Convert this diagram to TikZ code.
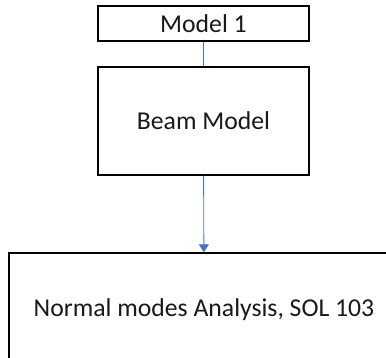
\documentclass[tikz,border=0pt]{standalone}
\usepackage{fontspec}
\setmainfont{Carlito}
\usetikzlibrary{arrows.meta}
\definecolor{linkblue}{RGB}{68,114,196}
\tikzset{
  box/.style={draw=black, line width=1.4pt, fill=white, inner sep=0pt,
    font=\fontsize{25.7}{30}\selectfont, text=black!90},
  link/.style={draw=linkblue, line width=0.9pt}
}
\begin{document}
\begin{tikzpicture}[x=1pt,y=-1pt]
  \useasboundingbox (0,0) rectangle (386,358);
  \clip (0,0) rectangle (386,358);
  \node[box, minimum width=211, minimum height=35] (m1) at (203.5,23.5) {Model 1};
  \node[box, minimum width=211, minimum height=108] (beam) at (203.5,121) {Beam Model};
  \node[box, minimum width=390, minimum height=114] (sol) at (204,310) {Normal modes Analysis, SOL 103};
  \draw[link] (m1) -- (beam);
  \draw[link, -{Triangle[length=8pt,width=10pt]}] (beam) -- (sol);
\end{tikzpicture}
\end{document}
